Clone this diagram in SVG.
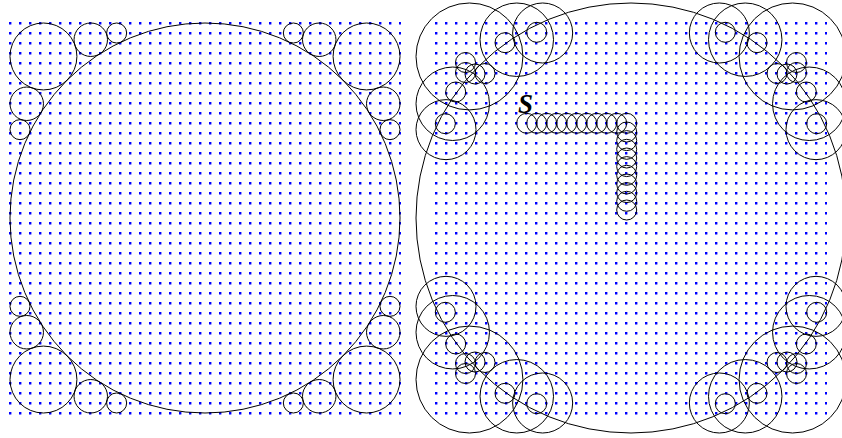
<svg xmlns="http://www.w3.org/2000/svg" width="842" height="438" viewBox="0 0 842 438">
<defs>
<circle id="r" r="10"/>
</defs>
<style>
circle, use { fill: none; stroke: #000; stroke-width: 1; }
.dots { fill: none; stroke: #0000ff; stroke-width: 2.4; stroke-dasharray: 2.4 7.6; }
.lbl { font-family: "Liberation Serif", "Times New Roman", serif; font-style: italic; font-weight: bold; font-size: 27px; fill: #000; }
</style>
<rect width="842" height="438" fill="#fff"/>
<g id="grid-left" transform="translate(0,0.2)"><path class="dots" d="M9 23h392M9 33h392M9 43h392M9 53h392M9 63h392M9 73h392M9 83h392M9 93h392M9 103h392M9 113h392M9 123h392M9 133h392M9 143h392M9 153h392M9 163h392M9 173h392M9 183h392M9 193h392M9 203h392M9 213h392M9 223h392M9 233h392M9 243h392M9 253h392M9 263h392M9 273h392M9 283h392M9 293h392M9 303h392M9 313h392M9 323h392M9 333h392M9 343h392M9 353h392M9 363h392M9 373h392M9 383h392M9 393h392M9 403h392M9 413h392"/></g>
<g id="grid-right" transform="translate(0,0.2)"><path class="dots" d="M435 23h392M435 33h392M435 43h392M435 53h392M435 63h392M435 73h392M435 83h392M435 93h392M435 103h392M435 113h392M435 123h392M435 133h392M435 143h392M435 153h392M435 163h392M435 173h392M435 183h392M435 193h392M435 203h392M435 213h392M435 223h392M435 233h392M435 243h392M435 253h392M435 263h392M435 273h392M435 283h392M435 293h392M435 303h392M435 313h392M435 323h392M435 333h392M435 343h392M435 353h392M435 363h392M435 373h392M435 383h392M435 393h392M435 403h392M435 413h392"/></g>

<g id="workspace">
<circle cx="205" cy="218" r="195"/>
<circle cx="43.46" cy="56.46" r="33.46"/><circle cx="366.54" cy="56.46" r="33.46"/>
<circle cx="43.46" cy="379.54" r="33.46"/><circle cx="366.54" cy="379.54" r="33.46"/>
<circle cx="90.77" cy="39.73" r="16.73"/><circle cx="319.23" cy="39.73" r="16.73"/>
<circle cx="90.77" cy="396.27" r="16.73"/><circle cx="319.23" cy="396.27" r="16.73"/>
<circle cx="26.73" cy="103.77" r="16.73"/><circle cx="26.73" cy="332.23" r="16.73"/>
<circle cx="383.27" cy="103.77" r="16.73"/><circle cx="383.27" cy="332.23" r="16.73"/>
<circle cx="116.65" cy="33.01" r="10.01"/><circle cx="293.35" cy="33.01" r="10.01"/>
<circle cx="116.65" cy="402.99" r="10.01"/><circle cx="293.35" cy="402.99" r="10.01"/>
<circle cx="20.01" cy="129.65" r="10.01"/><circle cx="20.01" cy="306.35" r="10.01"/>
<circle cx="389.99" cy="129.65" r="10.01"/><circle cx="389.99" cy="306.35" r="10.01"/>
</g>

<g id="cspace">
<circle cx="631" cy="218" r="215"/>
<circle cx="469.46" cy="56.46" r="53.46"/><circle cx="792.54" cy="56.46" r="53.46"/>
<circle cx="469.46" cy="379.54" r="53.46"/><circle cx="792.54" cy="379.54" r="53.46"/>
<circle cx="516.77" cy="39.73" r="36.73"/><circle cx="745.23" cy="39.73" r="36.73"/>
<circle cx="516.77" cy="396.27" r="36.73"/><circle cx="745.23" cy="396.27" r="36.73"/>
<circle cx="452.73" cy="103.77" r="36.73"/><circle cx="452.73" cy="332.23" r="36.73"/>
<circle cx="809.27" cy="103.77" r="36.73"/><circle cx="809.27" cy="332.23" r="36.73"/>
<circle cx="542.65" cy="33" r="30.01"/><circle cx="719.35" cy="33" r="30.01"/>
<circle cx="542.65" cy="403" r="30.01"/><circle cx="719.35" cy="403" r="30.01"/>
<circle cx="446" cy="129.65" r="30.01"/><circle cx="446" cy="306.35" r="30.01"/>
<circle cx="816" cy="129.65" r="30.01"/><circle cx="816" cy="306.35" r="30.01"/>
</g>

<g id="corner-tl" transform="translate(631,218)">
<use href="#r" x="-94.3" y="-185.7"/><use href="#r" x="-126" y="-175.3"/>
<use href="#r" x="-185.7" y="-94.3"/><use href="#r" x="-175.3" y="-126"/>
<use href="#r" x="-146" y="-144.5"/><use href="#r" x="-156" y="-144"/>
<use href="#r" x="-165.5" y="-145.5"/><use href="#r" x="-165.5" y="-155.5"/>
</g>
<g id="corner-tr" transform="translate(631,218) scale(-1,1)">
<use href="#r" x="-94.3" y="-185.7"/><use href="#r" x="-126" y="-175.3"/>
<use href="#r" x="-185.7" y="-94.3"/><use href="#r" x="-175.3" y="-126"/>
<use href="#r" x="-146" y="-144.5"/><use href="#r" x="-156" y="-144"/>
<use href="#r" x="-165.5" y="-145.5"/><use href="#r" x="-165.5" y="-155.5"/>
</g>
<g id="corner-bl" transform="translate(631,218) scale(1,-1)">
<use href="#r" x="-94.3" y="-185.7"/><use href="#r" x="-126" y="-175.3"/>
<use href="#r" x="-185.7" y="-94.3"/><use href="#r" x="-175.3" y="-126"/>
<use href="#r" x="-146" y="-144.5"/><use href="#r" x="-156" y="-144"/>
<use href="#r" x="-165.5" y="-145.5"/><use href="#r" x="-165.5" y="-155.5"/>
</g>
<g id="corner-br" transform="translate(631,218) scale(-1,-1)">
<use href="#r" x="-94.3" y="-185.7"/><use href="#r" x="-126" y="-175.3"/>
<use href="#r" x="-185.7" y="-94.3"/><use href="#r" x="-175.3" y="-126"/>
<use href="#r" x="-146" y="-144.5"/><use href="#r" x="-156" y="-144"/>
<use href="#r" x="-165.5" y="-145.5"/><use href="#r" x="-165.5" y="-155.5"/>
</g>

<g id="path">
<use href="#r" x="526.7" y="123.3"/><use href="#r" x="536.7" y="123.3"/><use href="#r" x="546.7" y="123.3"/>
<use href="#r" x="556.7" y="123.3"/><use href="#r" x="566.7" y="123.3"/><use href="#r" x="576.7" y="123.3"/>
<use href="#r" x="586.7" y="123.3"/><use href="#r" x="596.7" y="123.3"/><use href="#r" x="606.7" y="123.3"/>
<use href="#r" x="616.7" y="123.3"/><use href="#r" x="626.7" y="123.3"/>
<use href="#r" x="626.7" y="132"/><use href="#r" x="626.7" y="140.6"/><use href="#r" x="626.7" y="149.3"/>
<use href="#r" x="626.7" y="158"/><use href="#r" x="626.7" y="166.6"/><use href="#r" x="626.7" y="175.3"/>
<use href="#r" x="626.7" y="184"/><use href="#r" x="626.7" y="192.6"/><use href="#r" x="626.7" y="201.3"/>
<use href="#r" x="626.7" y="210"/>
</g>
<g id="label-s"><text class="lbl" x="518" y="113">S</text></g>
</svg>
